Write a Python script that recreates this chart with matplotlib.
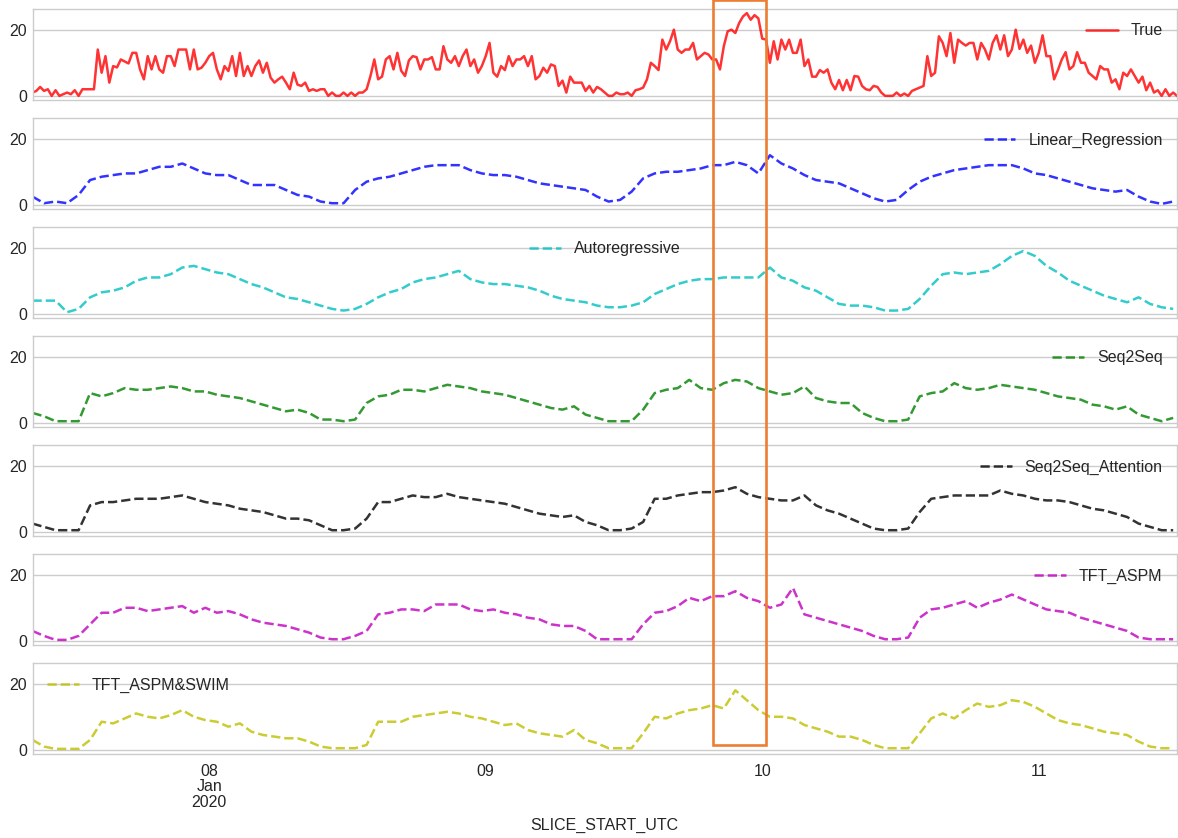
import matplotlib
matplotlib.use("Agg")
import matplotlib.pyplot as plt
import matplotlib.dates as mdates
from matplotlib.patches import Rectangle
from matplotlib.ticker import NullLocator
from matplotlib.transforms import blended_transform_factory
import pandas as pd

plt.style.use("seaborn-v0_8-whitegrid")
plt.rcParams["font.family"] = ["Liberation Sans", "DejaVu Sans"]
plt.rcParams["font.size"] = 11.5

# observed series, 20-minute steps from 2020-01-07 08:40
true_vals = [
    1, 1.5, 2.7, 1.5, 2, 0, 1.7, 0, 0.5, 1, 0.5, 1.7, 0, 2, 2, 2, 2,
    14, 7, 12, 4, 9, 8.6, 11, 10.4, 9.8,
    13, 13, 8, 5, 12, 8, 12, 8, 7,
    12, 12, 9, 14, 14, 14, 8, 14, 8, 8.5, 10, 12, 13,
    8, 5, 9, 7.5, 12, 6, 13, 6, 9, 6,
    9, 10.7, 7, 10, 5.5, 4, 5, 5.8, 4, 2,
    7, 3.4, 3, 4, 1.5, 2, 1.5, 2, 2,
    0, 1, 0, 0, 1, 0, 1, 0, 1, 1,
    2, 6, 11, 5, 5.8, 11, 12, 8, 13, 7.6,
    6, 10.7, 12, 11.7, 8, 11, 11, 11.7, 8, 8, 15, 11, 10, 12,
    9, 12, 14, 9, 11, 7, 9, 12, 16, 7,
    5.8, 9, 7.8, 12, 9, 11, 11, 12, 9, 12,
    5, 6, 8.5, 7, 9.5, 9, 3, 4.6, 1, 5.8,
    4, 4, 4, 1.5, 3, 1, 2.7, 2, 1, 0,
    0, 1, 0.5, 0.5, 1, 0, 1.7, 2, 2.5, 5,
    10, 9, 7.8, 17, 14, 16.5, 20, 14, 13, 14,
    14, 16, 11, 12, 13, 12.5, 11, 11, 8, 15,
    19.5, 20, 19, 22, 24, 25, 23, 24.4, 23.4, 17.3,
    17, 10, 16.5, 11, 17, 14, 17, 13, 13, 17,
    9, 11, 5.8, 5.8, 7.8, 7, 8, 4, 2, 4.8,
    1.7, 4.8, 1.7, 6, 5.8, 3, 2, 1.7, 3, 2.7,
    1, 0, 0, 0, 1, 0, 0.7, 0, 1.5, 2,
    2.5, 3, 12, 6, 7, 18, 16, 12, 19, 10,
    17, 16, 15.2, 16, 16, 11, 16, 14, 11, 16,
    18.3, 14, 18.3, 12, 14, 20, 14.2, 17, 13, 15.2,
    10, 13, 18.3, 12, 12, 5, 7.8, 11, 13.2, 8,
    9, 13.2, 10, 10, 7, 6, 5, 9, 8, 8,
    4, 5, 2, 7, 6, 8, 6, 4, 5.8, 1.7,
    4, 1, 1.7, 0, 2, 0, 1, 0,
]

# model predictions, hourly from 2020-01-07 08:40
linear_regression = [
    2.5, 0.5, 1, 0.5, 3, 7.5, 8.5, 9, 9.5, 9.5,
    10.5, 11.5, 11.5, 12.5, 11, 9.5, 9, 9, 7.5, 6,
    6, 6, 4.5, 3, 2.5, 1, 0.5, 0.5, 4.5, 7,
    8, 8.5, 9.5, 10.5, 11.5, 12, 12, 12, 10.5, 9.5,
    9, 9, 8.5, 7.5, 6.5, 6, 5.5, 5, 4.5, 2.5,
    1, 1.5, 4, 8, 9.5, 10, 10, 10.5, 11, 12,
    12, 13, 12, 9.5, 15, 12.5, 11, 9, 7.5, 7,
    6.5, 5, 3.5, 2, 1, 1.5, 4.5, 7, 8.5, 9.5,
    10.5, 11, 11.5, 12, 12, 12, 11, 9.5, 9, 8,
    7, 6, 5, 4.5, 4, 4.5, 2.5, 1, 0.3, 1,
]
autoregressive = [
    4, 4, 4, 0.5, 1.5, 5, 6.5, 7, 8, 10,
    11, 11, 12, 14, 14.5, 13.5, 12.5, 12, 10.5, 9,
    8, 6.5, 5, 4.5, 3.5, 2.5, 1.5, 1, 1.5, 3,
    5, 6.5, 7.5, 9.5, 10.5, 11, 12, 13, 10.5, 9.5,
    9, 9, 8.5, 8, 7, 5.5, 4.5, 4, 3.5, 2.5,
    2, 2, 2.5, 3.5, 6, 7.5, 9, 10, 10.5, 10.5,
    11, 11, 11, 11, 14, 11, 10, 8, 7, 5,
    3, 2.5, 2.5, 2, 1, 1, 1.5, 4.5, 8.5, 12,
    12.5, 12, 12.5, 13, 15, 17.5, 19, 17.5, 14.5, 12.5,
    10, 8.5, 7, 5.5, 4.5, 3.5, 5, 3, 2, 1.5,
]
seq2seq = [
    3, 2, 0.5, 0.5, 0.5, 9, 8, 9, 10.5, 10,
    10, 10.5, 11, 10.5, 9.5, 9.5, 8.5, 8, 7.5, 6.5,
    5.5, 4.5, 3.5, 4, 3, 1, 1, 0.5, 1, 6,
    8, 8.5, 10, 10, 9.5, 10.5, 11.5, 11, 10.5, 9.5,
    9, 8.5, 7.5, 6.5, 5.5, 4.5, 4, 5, 2.5, 1.5,
    0.5, 0.5, 0.5, 4, 9, 10, 10.5, 13, 10.5, 10,
    12, 13, 12.5, 10.5, 9.5, 8.5, 9, 11, 7.5, 6.5,
    6, 6, 3, 1.5, 0.5, 0.5, 1, 8, 9, 9.5,
    12, 10.5, 10, 10.5, 11.5, 11, 10.5, 10, 9, 8,
    7.5, 7, 5.5, 5, 4, 5, 2.5, 1.5, 0.5, 1.5,
]
seq2seq_attention = [
    2.5, 1.5, 0.5, 0.5, 0.5, 8, 9, 9, 9.5, 10,
    10, 10, 10.5, 11, 10, 9, 8.5, 8, 7, 6.5,
    6, 5, 4, 4, 3.5, 2, 0.5, 0.5, 1, 4,
    9, 9, 10, 11, 10.5, 10.5, 11.5, 10.5, 10, 9.5,
    9, 8.5, 7.5, 6.5, 5.5, 5, 4.5, 5, 3, 2,
    0.5, 0.5, 1, 3, 10, 10, 11, 11.5, 12, 12,
    12.5, 13.5, 11.5, 10.5, 10, 9.5, 9.5, 11, 8, 6.5,
    5.5, 4, 2.5, 1, 0.5, 0.5, 1, 6, 10, 10.5,
    11, 11, 11, 11, 12.5, 11.5, 11, 10, 9.5, 9.5,
    9, 8, 7, 6.5, 5.5, 4.5, 2.5, 1.5, 0.5, 0.5,
]
tft_aspm = [
    3, 1.5, 0.3, 0.3, 1.5, 5, 8.5, 8.5, 10, 10,
    9, 9.5, 10, 10.5, 8.5, 10, 8.5, 9, 8, 6.5,
    5.5, 5, 4.5, 3.5, 2.5, 1, 0.5, 0.5, 1.5, 3,
    8, 8.5, 9.5, 9.5, 9, 11, 11, 11, 9.5, 9,
    9.5, 8.5, 8, 7, 6.5, 5, 4.5, 4.5, 3, 0.5,
    0.5, 0.5, 0.5, 5, 8.5, 9, 10.5, 13, 12, 13.5,
    13.5, 15, 13, 12, 10, 11, 16, 8, 7, 6,
    5, 4, 3, 1.5, 0.5, 0.5, 1, 7, 9.5, 10,
    11, 12, 10, 11.5, 12.5, 14, 12.5, 11, 9.5, 9,
    8.5, 7, 6, 5, 4, 3, 1, 0.5, 0.5, 0.5,
]
tft_aspm_swim = [
    3, 1, 0.3, 0.3, 0.3, 3, 8.5, 8, 9.5, 11,
    10, 9.5, 10.5, 12, 10, 9, 8.5, 7, 8, 5.5,
    4.5, 4, 3.5, 3.5, 2.5, 1, 0.5, 0.5, 0.5, 1.5,
    8.5, 8.5, 8.5, 10, 10.5, 11, 11.5, 11, 10, 9.5,
    8.5, 7.5, 8, 6, 5, 4.5, 4, 6, 3, 2,
    0.5, 0.5, 0.5, 5, 10, 9.5, 11, 12, 12.5, 13.5,
    12.5, 18, 15, 12, 10, 10, 9.5, 7.5, 6.5, 5.5,
    4, 4, 3, 1.5, 0.5, 0.5, 0.5, 5, 9.5, 11,
    9.5, 12, 14, 13, 13.5, 15, 14.5, 13, 11, 9,
    8, 7.5, 6.5, 5.5, 5, 4.5, 2.5, 1, 0.5, 0.5,
]

series_names = ["True", "Linear_Regression", "Autoregressive", "Seq2Seq",
                "Seq2Seq_Attention", "TFT_ASPM", "TFT_ASPM&SWIM"]
series_vals = [true_vals, linear_regression, autoregressive, seq2seq,
               seq2seq_attention, tft_aspm, tft_aspm_swim]
colors = ["r", "b", "c", "g", "k", "m", "y"]
legend_locs = ["upper right", "upper right", "upper center", "upper right",
               "upper right", "upper right", "upper left"]

idx_true = pd.date_range("2020-01-07 08:40", periods=len(true_vals), freq="20min")
idx_pred = pd.date_range("2020-01-07 08:40", periods=len(linear_regression), freq="h")
x_start = pd.Timestamp("2020-01-07 08:40")
x_end = pd.Timestamp("2020-01-11 12:00")

tick_days = pd.date_range("2020-01-08", "2020-01-11", freq="D")
tick_labels = ["08\nJan\n2020", "09", "10", "11"]

fig, axes = plt.subplots(7, 1, figsize=(11.78, 8.38), dpi=100,
                         sharex=True, sharey=True)
fig.subplots_adjust(left=32.5 / 1178, right=1177 / 1178,
                    top=1 - 9 / 838, bottom=1 - 754 / 838, hspace=18 / 91)

for i, ax in enumerate(axes):
    if i == 0:
        ax.plot(idx_true, series_vals[i], color=colors[i], alpha=0.8,
                lw=1.8, label=series_names[i])
    else:
        ax.plot(idx_pred, series_vals[i], color=colors[i], alpha=0.8,
                lw=1.8, ls="--", label=series_names[i])
    ax.legend(loc=legend_locs[i], frameon=False, fontsize=11.5)
    ax.grid(False, axis="x")
    ax.grid(True, axis="y", color=".8", lw=1)
    ax.set_yticks([0, 20])
    ax.tick_params(axis="both", length=0, labelcolor=".15", labelsize=11.5)
    ax.tick_params(axis="y", pad=4)
    ax.tick_params(axis="x", pad=7)
    for sp in ax.spines.values():
        sp.set_color(".8")

axes[-1].set_xlim(x_start, x_end)
axes[-1].set_xticks(tick_days)
axes[-1].set_xticklabels(tick_labels, linespacing=1.05)
axes[-1].xaxis.set_minor_locator(NullLocator())
axes[-1].set_xlabel("SLICE_START_UTC", color=".15", fontsize=11.5, labelpad=6)

# highlighted window around the evening peak of Jan 9
box_x0 = mdates.date2num(pd.Timestamp("2020-01-09 19:44"))
box_x1 = mdates.date2num(pd.Timestamp("2020-01-10 00:21"))
trans = blended_transform_factory(axes[-1].transData, fig.transFigure)
fig.add_artist(Rectangle((box_x0, 1 - 745 / 838), box_x1 - box_x0,
                         745 / 838, transform=trans, fill=False,
                         edgecolor="#ED7D31", lw=1.9))

fig.savefig("out.png", dpi=100)
